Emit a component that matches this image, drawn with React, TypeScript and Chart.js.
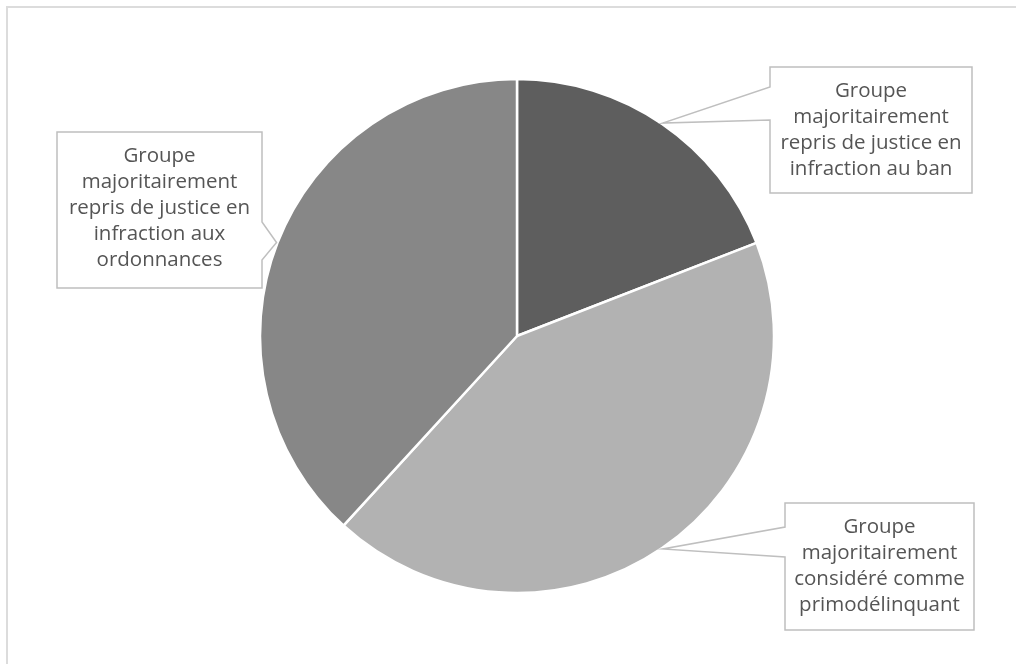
import React, { useEffect, useRef } from "react";
import { Chart, registerables } from "chart.js";

Chart.register(...registerables);

const categories = [
  "Groupe majoritairement repris de justice en infraction au ban",
  "Groupe majoritairement considéré comme primodélinquant",
  "Groupe majoritairement repris de justice en infraction aux ordonnances",
];
const shares = [19.1, 42.7, 38.2];
const sliceColors = ["#5e5e5e", "#b2b2b2", "#878787"];
const labelLines = [
  ["Groupe", "majoritairement", "repris de justice en", "infraction au ban"],
  ["Groupe", "majoritairement", "considéré comme", "primodélinquant"],
  ["Groupe", "majoritairement", "repris de justice en", "infraction aux", "ordonnances"],
];

// layout of the callout boxes (pixels)
const labelBoxes = [
  { x: 770, y: 67, w: 202, h: 126, side: "left", wedge: [20, 53] },
  { x: 785, y: 503, w: 189, h: 127, side: "left", wedge: [24, 54] },
  { x: 57, y: 132, w: 205, h: 156, side: "right", wedge: [90, 128] },
];

const W = 1016;
const H = 664;

const calloutPlugin = {
  id: "callouts",
  afterDraw(chart: any) {
    const ctx = chart.ctx;
    ctx.save();
    // outer frame
    ctx.strokeStyle = "#dcdcdc";
    ctx.lineWidth = 2;
    ctx.strokeRect(7, 7, W + 20, H + 20);

    const meta = chart.getDatasetMeta(0);
    meta.data.forEach((arc: any, i: number) => {
      const b = labelBoxes[i];
      const mid = (arc.startAngle + arc.endAngle) / 2;
      const r = arc.outerRadius + 1;
      const tx = arc.x + Math.cos(mid) * r;
      const ty = arc.y + Math.sin(mid) * r;
      ctx.beginPath();
      if (b.side === "left") {
        ctx.moveTo(b.x, b.y);
        ctx.lineTo(b.x + b.w, b.y);
        ctx.lineTo(b.x + b.w, b.y + b.h);
        ctx.lineTo(b.x, b.y + b.h);
        ctx.lineTo(b.x, b.y + b.wedge[1]);
        ctx.lineTo(tx, ty);
        ctx.lineTo(b.x, b.y + b.wedge[0]);
        ctx.closePath();
      } else {
        ctx.moveTo(b.x, b.y);
        ctx.lineTo(b.x + b.w, b.y);
        ctx.lineTo(b.x + b.w, b.y + b.wedge[0]);
        ctx.lineTo(tx, ty);
        ctx.lineTo(b.x + b.w, b.y + b.wedge[1]);
        ctx.lineTo(b.x + b.w, b.y + b.h);
        ctx.lineTo(b.x, b.y + b.h);
        ctx.closePath();
      }
      ctx.fillStyle = "#ffffff";
      ctx.fill();
      ctx.strokeStyle = "#bfbfbf";
      ctx.lineWidth = 1.5;
      ctx.stroke();

      ctx.fillStyle = "#555555";
      ctx.font = "20.5px 'Open Sans', sans-serif";
      ctx.textAlign = "center";
      ctx.textBaseline = "alphabetic";
      const lines = labelLines[i];
      lines.forEach((ln, k) => {
        ctx.fillText(ln, b.x + b.w / 2, b.y + 30 + k * 26);
      });
    });
    ctx.restore();
  },
};

export default function App() {
  const ref = useRef<HTMLCanvasElement | null>(null);
  useEffect(() => {
    document.body.style.margin = "0";
    document.body.style.overflow = "hidden";
    const canvas = ref.current;
    if (!canvas) return;
    const chart = new Chart(canvas, {
      type: "pie",
      data: {
        labels: categories,
        datasets: [
          {
            data: shares,
            backgroundColor: sliceColors,
            borderColor: "#ffffff",
            borderWidth: 2.5,
            hoverOffset: 0,
            offset: 0,
          },
        ],
      },
      options: {
        responsive: false,
        animation: false,
        devicePixelRatio: 1,
        radius: 257,
        layout: { padding: { top: 79, bottom: 71, left: 260, right: 242 } },
        plugins: {
          legend: { display: false },
          tooltip: { enabled: false },
        },
        events: [],
      } as any,
      plugins: [calloutPlugin],
    });
    return () => chart.destroy();
  }, []);
  return (
    <div style={{ width: W, height: H, background: "#ffffff" }}>
      <canvas ref={ref} width={W} height={H} style={{ width: W, height: H, display: "block" }} />
    </div>
  );
}
